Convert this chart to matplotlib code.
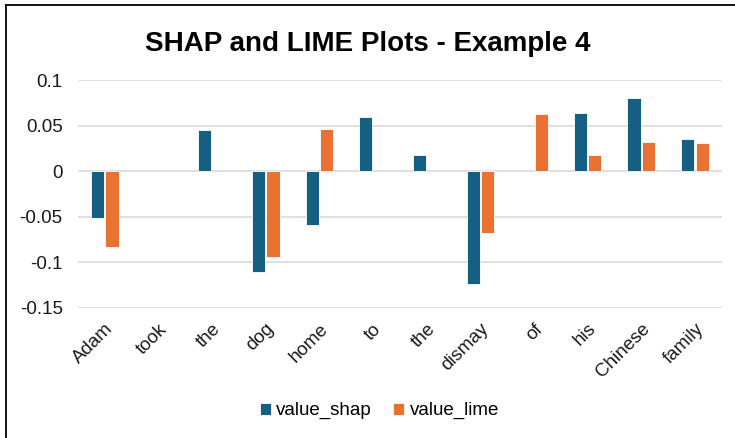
import numpy as np
import matplotlib.pyplot as plt
from matplotlib.lines import Line2D

plt.rcParams['font.family'] = ['Liberation Sans', 'DejaVu Sans']

words = ['Adam', 'took', 'the', 'dog', 'home', 'to', 'the', 'dismay', 'of', 'his', 'Chinese', 'family']
# None = no bar shown for that word
value_shap = [-0.051, None, 0.045, -0.111, -0.059, 0.060, 0.018, -0.124, None, 0.064, 0.080, 0.035]
value_lime = [-0.083, None, None, -0.094, 0.046, None, None, -0.068, 0.063, 0.018, 0.032, 0.031]

shap = np.array(value_shap, dtype=float)
lime = np.array(value_lime, dtype=float)

fig = plt.figure(figsize=(7.35, 4.38), dpi=100)
ax = fig.add_axes([0.106, 0.297, 0.876, 0.52])

x = np.arange(len(words))
w = 0.245
ax.bar(x - 0.135, shap, w, color='#156082', edgecolor='white', linewidth=0.6,
       label='value_shap', zorder=3)
ax.bar(x + 0.135, lime, w, color='#E97132', edgecolor='white', linewidth=0.6,
       label='value_lime', zorder=3)

ax.set_xlim(-0.5, len(words) - 0.5)
ax.set_ylim(-0.15, 0.1)
ax.set_yticks([0.1, 0.05, 0, -0.05, -0.1, -0.15])
ax.set_yticklabels(['0.1', '0.05', '0', '-0.05', '-0.1', '-0.15'])
ax.set_xticks(x)
ax.set_xticklabels(words, rotation=45, ha='right', rotation_mode='anchor')
ax.tick_params(axis='both', length=0, labelsize=13.5, colors='#1a1a1a')
ax.tick_params(axis='y', pad=11)
ax.tick_params(axis='x', pad=9)
ax.grid(axis='y', color='#d9d9d9', linewidth=1.2, zorder=0)
for s in ax.spines.values():
    s.set_visible(False)

fig.suptitle('SHAP and LIME Plots - Example 4', y=0.93, fontsize=20, fontweight='bold')

ax.legend(loc='center', bbox_to_anchor=(0.516, 0.062), bbox_transform=fig.transFigure,
          ncol=2, frameon=False, fontsize=13.5, handlelength=0.6, handleheight=0.6,
          handletextpad=0.3, columnspacing=1.1)

# chart frame (top and left edges visible)
fig.add_artist(Line2D([0.0082, 1.0], [0.989, 0.989], color='black', linewidth=1.3, transform=fig.transFigure))
fig.add_artist(Line2D([0.0082, 0.0082], [0.0, 0.989], color='black', linewidth=1.3, transform=fig.transFigure))

fig.savefig('out.png', dpi=100)
